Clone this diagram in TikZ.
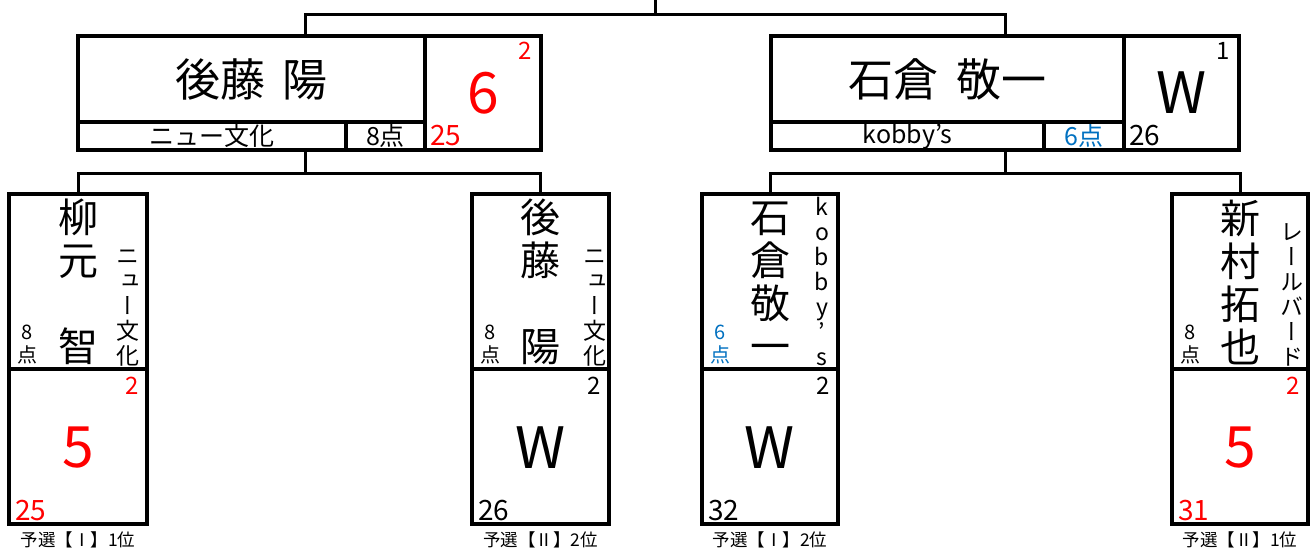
\documentclass[tikz,border=0pt]{standalone}
\usepackage{fontspec}
\setmainfont{Noto Sans CJK JP}
\newfontfamily\tatefont[RawFeature=+vert]{Noto Sans CJK JP}

\definecolor{winred}{RGB}{255,0,0}
\definecolor{ptblue}{RGB}{0,112,192}

\tikzset{
  cell/.style={draw, line width=3.2pt, inner sep=0pt},
  link/.style={line width=3pt},
  bigname/.style={font=\fontsize{45}{50}\selectfont},
  club/.style={font=\fontsize{25}{27}\selectfont},
  bigscore/.style={font=\fontsize{57}{60}\selectfont},
  seed/.style={font=\fontsize{24}{26}\selectfont},
  total/.style={font=\fontsize{28}{30}\selectfont, inner sep=0pt},
  tatename/.style={align=center, inner sep=0pt, font=\fontsize{40}{43}\selectfont},
  tateclub/.style={align=center, inner sep=0pt, anchor=south, font=\tatefont\fontsize{23}{25}\selectfont},
  tatepts/.style={align=center, inner sep=0pt, anchor=south, font=\fontsize{20}{23}\selectfont},
  rank/.style={font=\fontsize{17.5}{20}\selectfont}
}

\begin{document}
\begin{tikzpicture}[x=1pt,y=-1pt]
    \useasboundingbox (0,0) rectangle (1314,549);

    % final: goto vs ishikura
    \node[cell, minimum width=347, minimum height=86, bigname] (gotoName) at (251.5,79) {後藤\hspace{0.4em}陽};
    \node[cell, minimum width=268, minimum height=28, club] (gotoClub) at (212,136) {ニュー文化};
    \node[cell, minimum width=79, minimum height=28, club] (gotoPts) at (385.5,136) {8点};
    \node[cell, minimum width=116, minimum height=114] (gotoScore) at (483,93) {};
    \node[bigscore, text=winred] (gotoWin) at (483,93) {6};
    \node[seed, text=winred] (gotoSeed) at (525,51) {2};
    \node[total, text=winred, anchor=west] (gotoTotal) at (430,136) {25};
    \node[cell, minimum width=463, minimum height=114] (gotoTop) at (309.5,93) {};

    \node[cell, minimum width=353, minimum height=86, bigname] (ishiName) at (947.5,79) {石倉\hspace{0.4em}敬一};
    \node[cell, minimum width=273, minimum height=28, club] (ishiClub) at (907.5,136) {kobby’s};
    \node[cell, minimum width=80, minimum height=28, club, text=ptblue] (ishiPts) at (1084,136) {6点};
    \node[cell, minimum width=115, minimum height=114] (ishiScore) at (1181.5,93) {};
    \node[bigscore] (ishiWin) at (1181.5,93) {W};
    \node[seed] (ishiSeed) at (1223,51) {1};
    \node[total, anchor=west] (ishiTotal) at (1129,136) {26};
    \node[cell, minimum width=468, minimum height=114] (ishiTop) at (1005,93) {};

    % semi finals
    \node[cell, minimum width=138, minimum height=175] (yanaName) at (78,281.5) {};
    \node[cell, minimum width=138, minimum height=155] (yanaScore) at (78,446.5) {};
    \node[tatename] (yanaText) at (78,282) {柳\\元\\　\\智};
    \node[tateclub] (yanaClub) at (128,366) {ニ\\ュ\\ー\\文\\化};
    \node[tatepts] (yanaPts) at (27,364) {8\\点};
    \node[bigscore, text=winred] (yanaWin) at (78,448) {5};
    \node[seed, text=winred] (yanaSeed) at (132,386) {2};
    \node[total, text=winred, anchor=west] (yanaTotal) at (15,511) {25};
    \node[rank] (yanaRank) at (78,540) {予選【Ⅰ】1位};

    \node[cell, minimum width=137, minimum height=175] (gotoBName) at (540.5,281.5) {};
    \node[cell, minimum width=137, minimum height=155] (gotoBScore) at (540.5,446.5) {};
    \node[tatename] (gotoBText) at (540.5,282) {後\\藤\\　\\陽};
    \node[tateclub] (gotoBClub) at (595,366) {ニ\\ュ\\ー\\文\\化};
    \node[tatepts] (gotoBPts) at (490,364) {8\\点};
    \node[bigscore] (gotoBWin) at (540.5,448) {W};
    \node[seed] (gotoBSeed) at (594,386) {2};
    \node[total, anchor=west] (gotoBTotal) at (478,511) {26};
    \node[rank] (gotoBRank) at (540.5,540) {予選【Ⅱ】2位};

    \node[cell, minimum width=136, minimum height=175] (ishiBName) at (770,281.5) {};
    \node[cell, minimum width=136, minimum height=155] (ishiBScore) at (770,446.5) {};
    \node[tatename] (ishiBText) at (770,282) {石\\倉\\敬\\一};
    \node[tateclub] (ishiBClub) at (822,366) {k\\o\\b\\b\\y\\’\\s};
    \node[tatepts, text=ptblue] (ishiBPts) at (720,364) {6\\点};
    \node[bigscore] (ishiBWin) at (770,448) {W};
    \node[seed] (ishiBSeed) at (823,386) {2};
    \node[total, anchor=west] (ishiBTotal) at (708,511) {32};
    \node[rank] (ishiBRank) at (770,540) {予選【Ⅰ】2位};

    \node[cell, minimum width=136, minimum height=175] (niiName) at (1240,281.5) {};
    \node[cell, minimum width=136, minimum height=155] (niiScore) at (1240,446.5) {};
    \node[tatename] (niiText) at (1240,282) {新\\村\\拓\\也};
    \node[tateclub] (niiClub) at (1292,366) {レ\\ー\\ル\\バ\\ー\\ド};
    \node[tatepts] (niiPts) at (1190,364) {8\\点};
    \node[bigscore, text=winred] (niiWin) at (1240,448) {5};
    \node[seed, text=winred] (niiSeed) at (1293,386) {2};
    \node[total, text=winred, anchor=west] (niiTotal) at (1178,511) {31};
    \node[rank] (niiRank) at (1240,540) {予選【Ⅱ】1位};

    % bracket lines
    \coordinate (champ) at (655,0);
    \draw[link] (champ) -- ++(0,14) coordinate (jTop);
    \draw[link] ([xshift=-4.5pt]gotoTop.north) |- (jTop) -| (ishiTop.north);
    \draw[link] ([xshift=-4.5pt]gotoTop.south) -- ++(0,22) coordinate (jLeft);
    \draw[link] (yanaName.north) |- (jLeft) -| (gotoBName.north);
    \draw[link] (ishiTop.south) -- ++(0,22) coordinate (jRight);
    \draw[link] (ishiBName.north) |- (jRight) -| (niiName.north);
\end{tikzpicture}
\end{document}
